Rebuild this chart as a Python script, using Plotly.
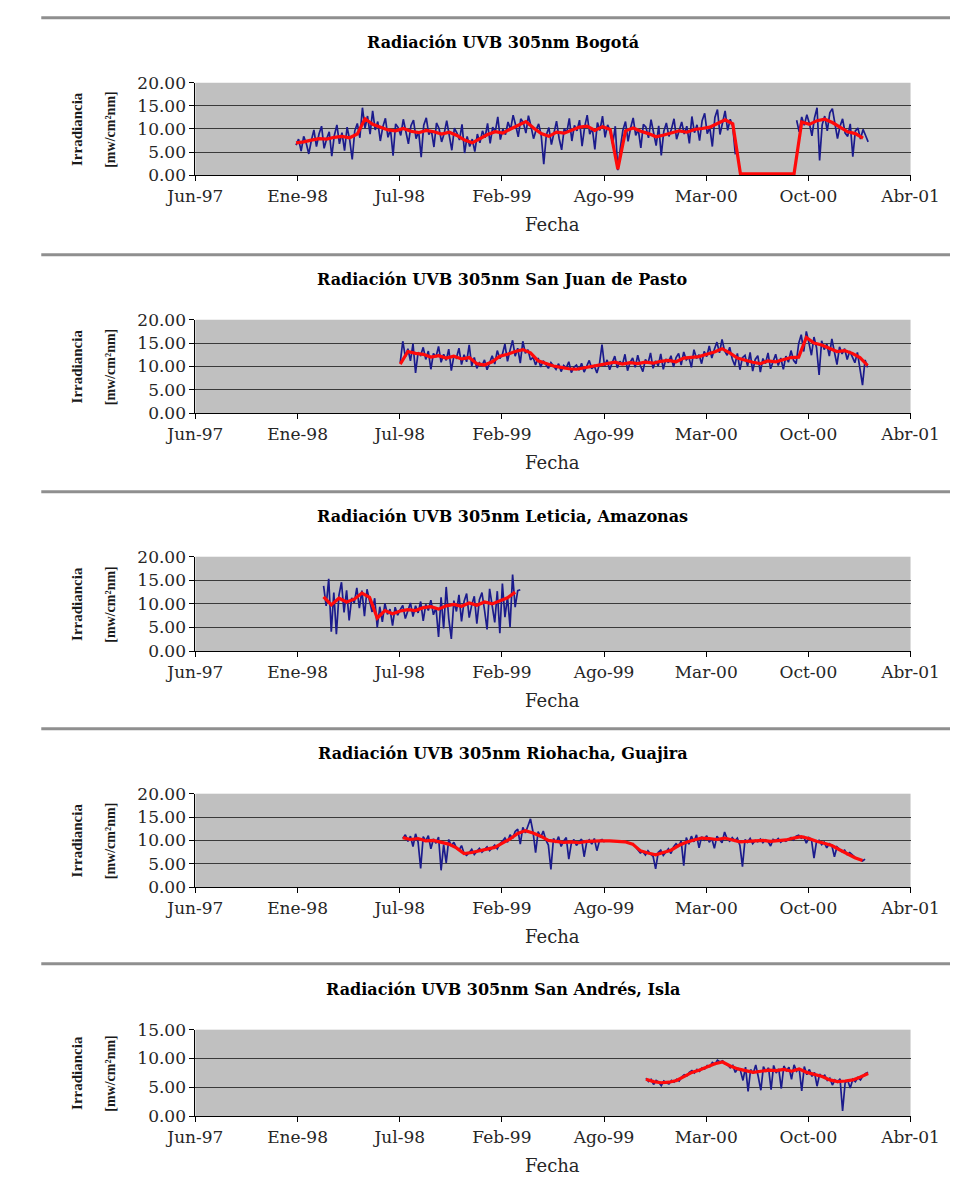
import pandas as pd
import plotly.graph_objects as go

# ---------------- data ----------------
tick_labels = ["Jun-97", "Ene-98", "Jul-98", "Feb-99", "Ago-99", "Mar-00", "Oct-00", "Abr-01"]
axis_start = "1997-06-19"
axis_end = "2001-04-19"
tick_step_days = 200

titles = [
    "Radiación UVB 305nm Bogotá",
    "Radiación UVB 305nm San Juan de Pasto",
    "Radiación UVB 305nm Leticia, Amazonas",
    "Radiación UVB 305nm Riohacha, Guajira",
    "Radiación UVB 305nm San Andrés, Isla",
]
y_max = [20, 20, 20, 20, 15]

blue_step_days = 5
red_step_days = 15

bogota_start = "1998-01-02"
bogota_blue = [
    6.5, 7.8, 5.2, 8.4, 6.9, 4.6, 7.5, 9.8, 6.2, 8.9, 10.6, 5.8, 7.9, 9.4, 4.1, 8.6, 10.9, 6.8,
    9.2, 5.3, 10.4, 7.7, 3.4, 9.6, 11.2, 8.1,
    14.6, 10.2, 12.8, 8.9, 13.9,
    9.8, 11.6, 7.4, 10.5, 12.3, 8.2, 9.9, 4.2, 11.1, 10.3,
    8.6, 12.1, 9.4, 6.8, 10.7, 11.9, 7.9, 9.5, 3.9, 10.8,
    12.4, 8.8, 9.7, 6.1, 11.3, 10.1, 7.2, 9.0, 11.8, 8.3,
    5.4, 10.2, 9.1, 7.6, 11.0, 4.8, 8.4,
    6.2, 7.8, 5.1, 8.9, 7.0,
    9.6, 8.1, 11.2, 6.9, 10.4, 9.3, 12.6, 7.7, 10.0, 8.8,
    11.5, 9.9, 13.0, 10.8, 8.3, 12.2, 11.4, 9.1, 12.9, 10.6,
    7.9, 9.8, 11.1, 8.6,
    2.4, 8.7, 10.3, 6.6, 9.4, 11.7, 8.0, 5.5, 10.1, 9.2,
    12.3, 7.4, 10.8, 9.6, 11.9, 6.3, 10.4, 13.0, 8.9, 10.2,
    5.6, 11.4, 9.7, 12.8, 8.2, 10.9, 9.5, 6.8, 10.6,
    1.1, 6.0,
    9.8, 11.6, 7.3, 10.2, 12.4, 8.6, 9.9, 5.9, 11.0, 10.4,
    8.1, 12.0, 9.3, 6.4, 10.7, 4.3, 9.5, 11.3, 8.4, 10.0,
    12.2, 7.8, 9.6, 11.5, 8.9, 10.6, 6.9, 12.7, 9.2, 10.9,
    7.5, 11.8, 13.4, 9.0, 10.3, 6.2, 12.5, 14.2, 8.8, 11.4,
    13.9, 9.7, 12.1, 10.5,
    4.5,
    None, None, None, None, None, None, None, None, None, None, None, None,
    None, None, None, None, None, None, None, None, None, None, None,
    11.9, 9.4, 12.6, 10.8, 13.1, 11.2, 8.5, 12.4, 14.6, 3.2,
    10.9, 12.8, 9.6, 13.5, 14.4, 11.0, 7.9, 10.6, 12.2, 9.1,
    8.4, 11.1, 4.0, 9.6, 10.2, 7.8, 9.9, 8.6, 7.2,
]
bogota_red = [
    7.0, 7.2, 7.6, 7.9, 7.8, 8.2, 8.4, 8.1, 8.9, 12.2,
    11.0, 10.4, 9.8, 9.6, 10.1, 9.5, 9.2, 9.7, 9.4, 8.9,
    9.3, 8.6, 7.6, 7.0, 7.9, 8.8, 9.4, 9.1, 10.0, 10.8,
    11.6, 10.2, 9.0, 8.4, 9.3, 9.1, 9.8, 10.4, 10.6, 9.7,
    10.5, 9.9, 1.3, 9.6, 10.2, 9.5, 9.0, 8.3, 8.7, 9.2,
    9.6, 9.3, 9.9, 10.1, 10.4, 11.2, 12.0, 11.1, 0.3, 0.3,
    0.3, 0.3, 0.3, 0.3, 0.3, 0.3, 11.5, 11.0, 11.8, 12.1,
    11.4, 10.3, 9.4, 9.0, 8.0,
]

pasto_start = "1998-07-25"
pasto_blue = [
    10.8, 15.4, 12.1, 13.8, 11.2, 14.9, 8.6, 13.0, 12.4, 14.1,
    11.5, 13.3, 9.4, 12.8, 12.0, 14.3, 10.9, 12.6, 11.3, 13.7,
    9.1, 12.2, 11.8, 13.9, 10.4, 12.5, 11.0, 14.6, 10.1, 11.9,
    9.6, 10.8, 10.2, 11.4, 9.3, 10.9, 12.3, 10.5, 13.4, 11.7,
    12.6, 14.8, 11.1, 13.5, 15.6, 12.2, 13.9, 10.7, 15.4, 12.8,
    13.6, 11.4, 12.0, 10.3, 11.8, 9.9, 11.2, 10.4, 9.6, 10.8,
    10.1, 9.4, 10.6, 8.9, 10.2, 9.7, 11.0, 8.7, 9.8, 10.3,
    9.2, 10.7, 8.8, 9.9, 11.3, 9.5, 10.1, 8.6, 10.5, 14.7,
    10.0, 11.4, 9.3, 10.8, 12.2, 9.7, 11.1, 10.4, 12.6, 9.1,
    10.9, 11.8, 9.8, 12.4, 10.2, 8.9, 11.5, 10.6, 12.9, 9.6,
    11.2, 10.1, 12.7, 9.4, 11.6, 10.8, 12.3, 9.9, 11.9, 12.8,
    10.3, 13.1, 11.4, 12.0, 9.8, 13.6, 11.7, 12.5, 10.6, 13.2,
    12.1, 14.4, 11.8, 13.7, 15.2, 12.9, 15.8, 13.3, 12.4, 14.1,
    11.6, 10.2, 12.8, 9.3, 11.9, 12.4, 10.1, 13.0, 9.0, 11.5,
    12.3, 8.8, 11.7, 10.6, 12.9, 9.5, 11.1, 12.6, 10.2, 11.8,
    9.4, 12.2, 10.9, 13.4, 11.3, 10.6, 14.9, 16.8, 13.2, 17.5,
    15.1, 12.4, 16.3, 14.0, 8.2, 15.5, 13.6, 14.8, 12.2, 15.9,
    13.1, 10.4, 14.2, 12.7, 13.8, 11.5, 13.3, 12.1, 10.8, 13.0,
    9.7, 6.0, 11.4, 9.8,
]
pasto_red = [
    10.5, 13.2, 12.8, 12.6, 12.0, 12.3, 11.8, 12.2, 11.6, 11.9,
    10.6, 10.3, 11.0, 12.2, 12.6, 13.2, 13.6, 12.9, 11.2, 10.6,
    10.1, 9.8, 9.5, 9.4, 9.7, 9.9, 10.3, 10.6, 10.9, 10.5,
    10.8, 10.6, 10.9, 10.7, 11.1, 11.3, 11.0, 11.8, 11.9, 12.1,
    12.6, 13.1, 13.8, 12.9, 11.8, 11.3, 10.9, 10.6, 11.2, 11.0,
    11.4, 11.9, 12.0, 16.2, 15.0, 14.6, 13.9, 13.2, 13.4, 12.8,
    11.9, 10.2,
]

leticia_start = "1998-02-25"
leticia_blue = [
    13.8, 9.6, 15.3, 4.1, 12.4, 3.6, 11.8, 14.6, 8.2, 12.9,
    6.5, 11.3, 10.2, 13.4, 9.1, 12.8, 7.4, 13.1, 10.6, 8.3,
    11.2, 5.0, 9.4, 6.2, 10.1, 7.8, 8.9, 5.4, 9.3, 7.6,
    8.8, 9.7, 6.9, 8.4, 10.2, 7.3, 9.6, 8.1, 10.5, 6.4,
    9.9, 8.6, 10.8, 7.7, 9.2, 3.0, 11.4, 4.8, 13.6, 6.9,
    2.6, 10.7, 8.4, 11.9, 6.3, 10.5, 12.2, 7.1, 9.8, 11.6,
    5.8, 10.9, 12.4, 8.7, 4.6, 13.2, 9.4, 6.1, 12.7, 3.8,
    14.3, 7.2, 11.5, 5.1, 16.2, 9.3, 12.8, 13.0,
]
leticia_red = [
    11.5, 9.8, 11.2, 10.4, 11.0, 12.3, 11.4, 7.0, 8.6, 7.9,
    8.5, 8.8, 8.6, 9.2, 9.4, 8.9, 9.6, 9.9, 9.5, 10.2,
    9.7, 10.4, 10.0, 10.6, 11.3, 12.5,
]

riohacha_start = "1998-07-30"
riohacha_blue = [
    10.4, 11.2, 9.8, 10.9, 8.7, 11.4, 9.6, 4.0, 10.8, 9.9,
    11.0, 8.2, 10.3, 9.4, 10.7, 3.6, 9.1, 5.2, 10.2, 8.8,
    9.6, 8.4, 7.9, 8.9, 7.2, 6.8, 7.4, 8.1, 7.0, 7.7,
    8.3, 7.5, 8.0, 8.6, 7.8, 8.4, 9.0, 8.2, 9.3, 9.8,
    10.5, 9.6, 11.2, 10.4, 11.9, 12.4, 9.2, 12.8, 11.6, 13.1,
    14.6, 11.8, 7.4, 11.9, 10.6, 12.0, 10.1, 9.0, 3.8, 10.4,
    9.5, 10.8, 8.7, 9.9, 10.6, 6.0, 9.4, 10.2, 8.9, 9.7,
    10.3, 6.5, 9.6, 10.1, 9.2, 10.4, 7.8, 9.9, 10.2, 9.6,
    None, None, None, None, None, None, None, None, None, None,
    9.4, 8.6, 8.0, 7.3, 7.6, 6.9, 7.8, 7.1, 6.6, 3.9,
    7.4, 7.9, 6.8, 7.5, 8.2, 7.2, 8.6, 9.3, 8.8, 9.9,
    4.6, 10.6, 9.2, 10.9, 9.7, 11.2, 8.4, 10.8, 10.1, 11.0,
    9.6, 10.4, 8.3, 10.9, 10.2, 9.5, 11.8, 10.3, 9.8, 10.6,
    9.9, 10.5, 8.9, 4.4, 10.2, 9.6, 10.4, 9.3, 10.0, 9.7,
    10.3, 9.5, 10.1, 9.8, 8.8, 10.2, 9.9, 10.4, 9.6, 10.1,
    9.8, 10.3, 10.6, 10.1, 10.9, 11.1, 10.5, 10.8, 9.4, 10.6,
    10.2, 6.2, 9.8, 10.0, 9.1, 9.6, 8.4, 9.3, 8.9, 6.5,
    8.6, 8.1, 7.6, 7.9, 7.0, 7.4, 6.8, 6.4, 6.1, 5.8,
    5.6, 6.0,
]
riohacha_red = [
    10.6, 10.2, 10.4, 9.9, 10.0, 9.6, 9.2, 8.4, 7.2, 7.4,
    7.8, 8.1, 8.5, 9.4, 10.3, 11.5, 12.1, 11.6, 10.9, 10.0,
    9.8, 9.6, 9.7, 9.5, 9.8, 9.9, 9.9, 9.9, 9.8, 9.7,
    9.2, 7.8, 7.3, 6.9, 7.4, 7.9, 8.9, 9.6, 10.1, 10.5,
    10.4, 10.2, 10.5, 10.1, 9.7, 9.8, 9.9, 10.0, 9.8, 9.9,
    10.1, 10.5, 10.8, 10.4, 9.8, 9.4, 8.9, 8.0, 7.1, 6.3,
    5.7,
]

sanandres_start = "1999-11-18"
sanandres_blue = [
    6.6, 6.0, 6.4, 5.5, 6.2, 5.9, 5.3, 6.1, 5.8, 5.6,
    6.2, 5.9, 6.4, 6.1, 6.8, 7.2, 7.0, 7.6, 7.9, 7.5,
    8.1, 7.8, 8.4, 8.2, 8.8, 8.6, 9.3, 9.0, 9.7, 9.4,
    9.6, 9.1, 8.9, 8.4, 8.8, 7.6, 8.3, 7.9, 6.2, 8.5,
    4.3, 8.1, 7.4, 8.9, 6.8, 4.5, 8.6, 7.7, 8.4, 4.6,
    8.8, 7.5, 8.2, 4.8, 8.7, 7.9, 8.5, 6.4, 8.9, 7.8,
    8.3, 4.4, 8.6, 7.2, 8.1, 6.9, 7.6, 5.2, 7.3, 6.8,
    7.1, 6.2, 6.6, 5.4, 6.3, 5.9, 6.5, 0.9, 5.8, 6.2,
    4.9, 6.4, 6.0, 6.7, 6.3, 7.0, 7.4, 7.6,
]
sanandres_red = [
    6.4, 6.0, 5.8, 5.9, 6.2, 6.9, 7.6, 8.0, 8.5, 9.1,
    9.4, 8.7, 8.2, 7.9, 7.6, 7.8, 8.0, 7.9, 8.1, 7.8,
    8.2, 7.6, 7.3, 6.9, 6.3, 6.0, 6.1, 6.3, 6.8, 7.4,
]

panels = [
    (bogota_start, bogota_blue, bogota_red),
    (pasto_start, pasto_blue, pasto_red),
    (leticia_start, leticia_blue, leticia_red),
    (riohacha_start, riohacha_blue, riohacha_red),
    (sanandres_start, sanandres_blue, sanandres_red),
]

# ---------------- layout (pixels) ----------------
W, H = 979, 1198
PLOT_L, PLOT_R = 176, 937
plot_tops = [74, 315, 556, 797, 1037]
plot_bots = [168, 410, 652, 892, 1125]
separators = [8, 249, 490, 731, 970]
TITLE_X = 503

def px(x):
    return x / W

def py(y):
    return 1 - y / H

SERIF = "DejaVu Serif"
tick_font = dict(family=SERIF, size=17, color="#262626")
tickvals = list(pd.date_range(axis_start, periods=len(tick_labels), freq=f"{tick_step_days}D"))

fig = go.Figure()
layout = {}
annotations = []
shapes = []

for k, (start, blue, red) in enumerate(panels):
    xa = "x" if k == 0 else f"x{k+1}"
    ya = "y" if k == 0 else f"y{k+1}"
    bd = pd.date_range(start, periods=len(blue), freq=f"{blue_step_days}D")
    rd = pd.date_range(start, periods=len(red), freq=f"{red_step_days}D")
    fig.add_trace(go.Scatter(x=bd, y=blue, mode="lines",
                             line=dict(color="#1b1b8c", width=1.7),
                             xaxis=xa, yaxis=ya, showlegend=False, hoverinfo="skip"))
    fig.add_trace(go.Scatter(x=rd, y=red, mode="lines",
                             line=dict(color="#ff0a0a", width=3.2),
                             xaxis=xa, yaxis=ya, showlegend=False, hoverinfo="skip"))

    top, bot = plot_tops[k], plot_bots[k]
    xkey = "xaxis" if k == 0 else f"xaxis{k+1}"
    ykey = "yaxis" if k == 0 else f"yaxis{k+1}"
    layout[xkey] = dict(
        domain=[px(PLOT_L), px(PLOT_R)], anchor=ya, type="date",
        range=[axis_start, axis_end], tickmode="array",
        tickvals=tickvals, ticktext=tick_labels,
        showgrid=False, zeroline=False, showline=True, linecolor="black", linewidth=1,
        ticks="outside", ticklen=5, tickcolor="black", tickfont=tick_font,
    )
    layout[ykey] = dict(
        domain=[py(bot), py(top)], anchor=xa, range=[0, y_max[k]],
        tick0=0, dtick=5, tickformat=".2f",
        showgrid=True, gridcolor="#3a3a3a", gridwidth=1, zeroline=False,
        showline=True, linecolor="black", linewidth=1,
        ticks="outside", ticklen=5, tickcolor="black", tickfont=tick_font,
    )
    annotations.append(dict(text=titles[k], x=px(TITLE_X), y=py(top - 41), xref="paper", yref="paper",
                            showarrow=False, xanchor="center", yanchor="middle",
                            font=dict(family=SERIF, size=16, color="black", weight="bold")))
    annotations.append(dict(text="Fecha", x=px((PLOT_L + PLOT_R) / 2), y=py(bot + 50), xref="paper", yref="paper",
                            showarrow=False, xanchor="center", yanchor="middle",
                            font=dict(family=SERIF, size=18, color="#262626")))
    mid = (top + bot) / 2
    annotations.append(dict(text="Irradiancia", x=px(50), y=py(mid), xref="paper", yref="paper",
                            showarrow=False, textangle=-90, xanchor="center", yanchor="middle",
                            font=dict(family="Liberation Serif", size=15, color="#1a1a1a", weight="bold")))
    annotations.append(dict(text="[mw/cm²nm]", x=px(86), y=py(mid), xref="paper", yref="paper",
                            showarrow=False, textangle=-90, xanchor="center", yanchor="middle",
                            font=dict(family="Liberation Serif", size=14, color="#1a1a1a", weight="bold")))

for s in separators:
    shapes.append(dict(type="line", xref="paper", yref="paper", x0=px(12), x1=1, y0=py(s), y1=py(s),
                       line=dict(color="#8f8f8f", width=3)))

fig.update_layout(
    width=W, height=H, margin=dict(l=0, r=0, t=0, b=0),
    paper_bgcolor="white", plot_bgcolor="#c0c0c0",
    annotations=annotations, shapes=shapes, **layout,
)

fig.write_html("out.html")
